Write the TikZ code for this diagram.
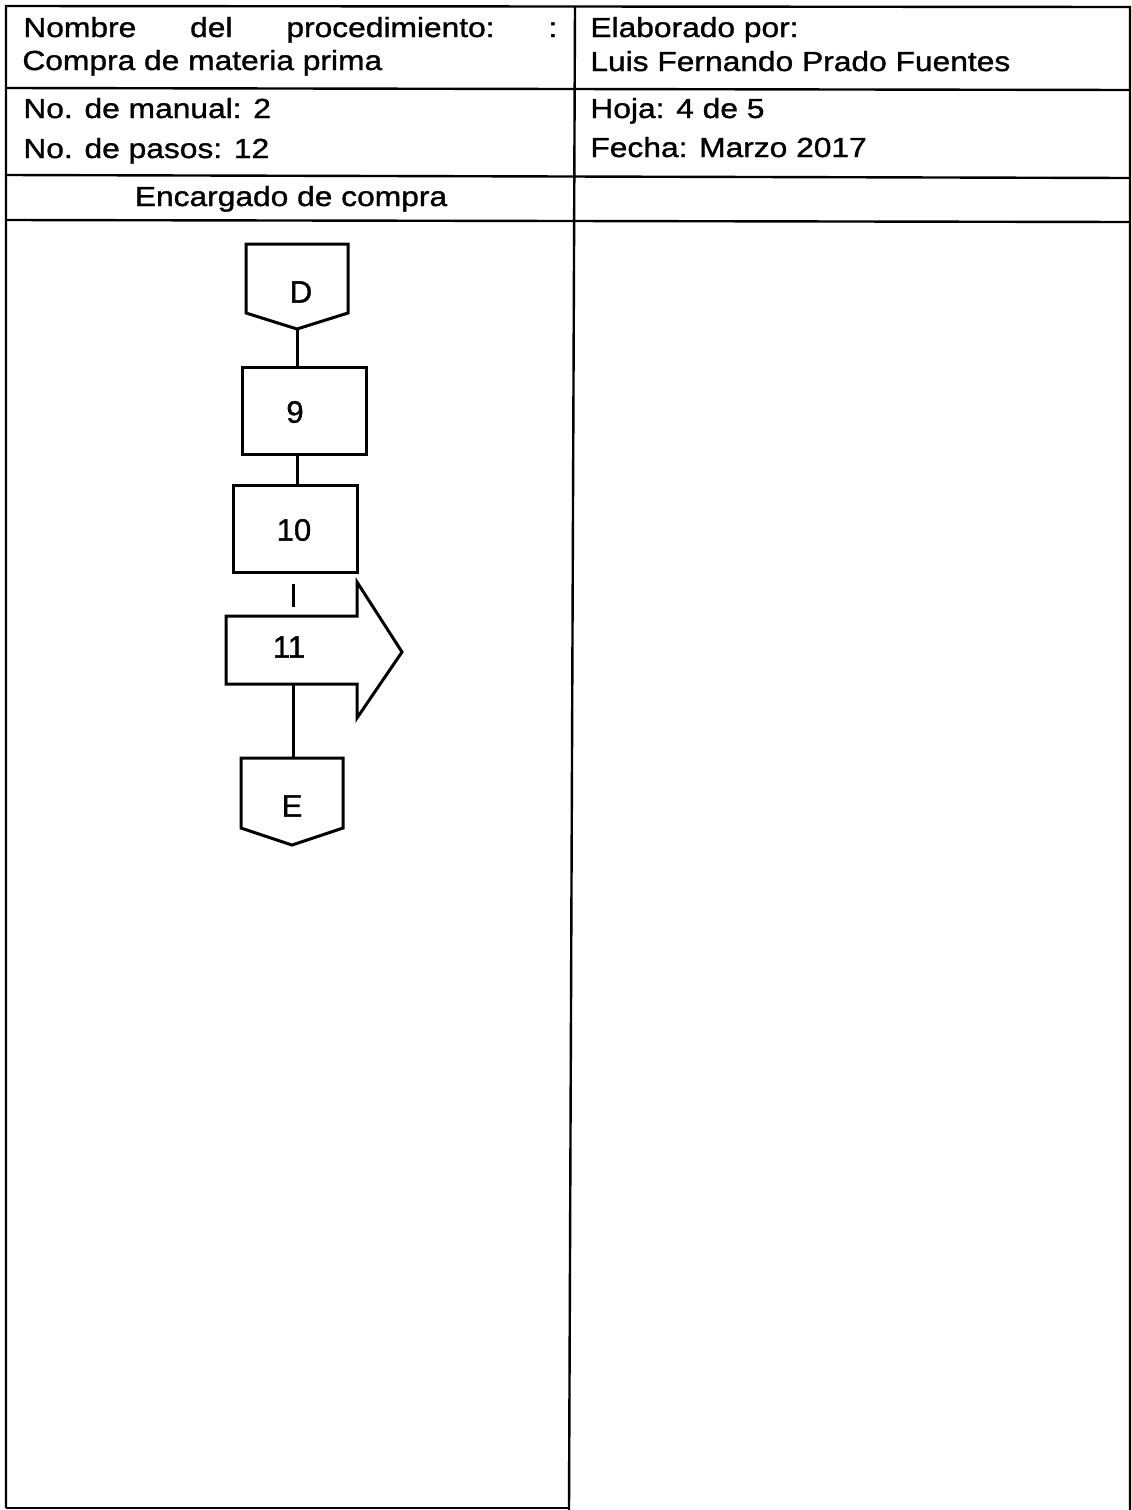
\documentclass[tikz,border=0pt]{standalone}
\usepackage{fontspec}
\setmainfont[FakeStretch=1.15,FakeBold=1.2]{Liberation Sans}
\newfontfamily\shpfont[FakeBold=1.2]{Liberation Sans}
\begin{document}
\begin{tikzpicture}[x=0.5pt,y=-0.5pt,
  tbl/.style={line width=1.2pt},
  shp/.style={draw, line width=1.5pt},
  conn/.style={line width=1.5pt},
  txt/.style={font=\fontsize{13.8}{16}\selectfont, inner sep=0pt, anchor=base west},
  hdr/.style={font=\fontsize{13.8}{16}\selectfont, inner sep=0pt, anchor=base},
  lbl/.style={font=\shpfont\fontsize{15.5}{18}\selectfont, inner sep=0pt},
  boxnode/.style={draw, line width=1.5pt, minimum width=62pt, minimum height=43.5pt, inner sep=0pt}]
\useasboundingbox (0,0) rectangle (1131,1510);
% table frame
\draw[tbl] (6,1508) -- (6,6) -- (1130,7) -- (1130,1510);
\draw[tbl] (6,1508) -- (569,1508);
\draw[tbl] (575,6) -- (569,1510);
\draw[tbl] (6,88) -- (1130,90);
\draw[tbl] (6,175) -- (1130,178);
\draw[tbl] (6,220) -- (1130,222);
% header texts
\node[txt] (t1) at (23,37) {\hbox to 267pt{Nombre\hfill del\hfill procedimiento:\hfill :}};
\node[txt] (t2) at (22,70) {Compra de materia prima};
\node[txt] (t3) at (23,118) {No. de manual: 2};
\node[txt] (t4) at (23,158) {No. de pasos: 12};
\node[hdr] (t5) at (291,206) {Encargado de compra};
\node[txt] (t6) at (590,37) {Elaborado por:};
\node[txt] (t7) at (590,71) {Luis Fernando Prado Fuentes};
\node[txt] (t8) at (590,118) {Hoja: 4 de 5};
\node[txt] (t9) at (590,157) {Fecha: Marzo 2017};
% D connector
\draw[shp] (246,244) -- (348,244) -- (348,313) -- (297,329) -- (246,313) -- cycle;
\node[lbl] (nD) at (301,292) {D};
\coordinate (Dtip) at (297,329);
% box 9
\node[boxnode] (n9) at (304,410.5) {};
\node[lbl] (l9) at (295,412) {9};
% box 10
\node[boxnode] (n10) at (295,529) {};
\node[lbl] (l10) at (294,530) {10};
% arrow 11
\draw[shp] (226,616) -- (357,616) -- (357,582) -- (402,652) -- (357,718) -- (357,684) -- (226,684) -- cycle;
\coordinate (a11top) at (293,616);
\coordinate (a11bot) at (293,684);
\node[lbl] (l11) at (289,647) {11};
% E connector
\draw[shp] (241,758) -- (343,758) -- (343,828) -- (292,845) -- (241,828) -- cycle;
\coordinate (Etop) at (293,758);
\node[lbl] (nE) at (292,806) {E};
% connectors
\draw[conn] (Dtip) -- (n9.north -| Dtip);
\draw[conn] (n9.south -| Dtip) -- (n10.north -| Dtip);
\draw[conn, shorten <=5pt, shorten >=4.5pt] (n10.south -| a11top) -- (a11top);
\draw[conn] (a11bot) -- (Etop);
\end{tikzpicture}
\end{document}
